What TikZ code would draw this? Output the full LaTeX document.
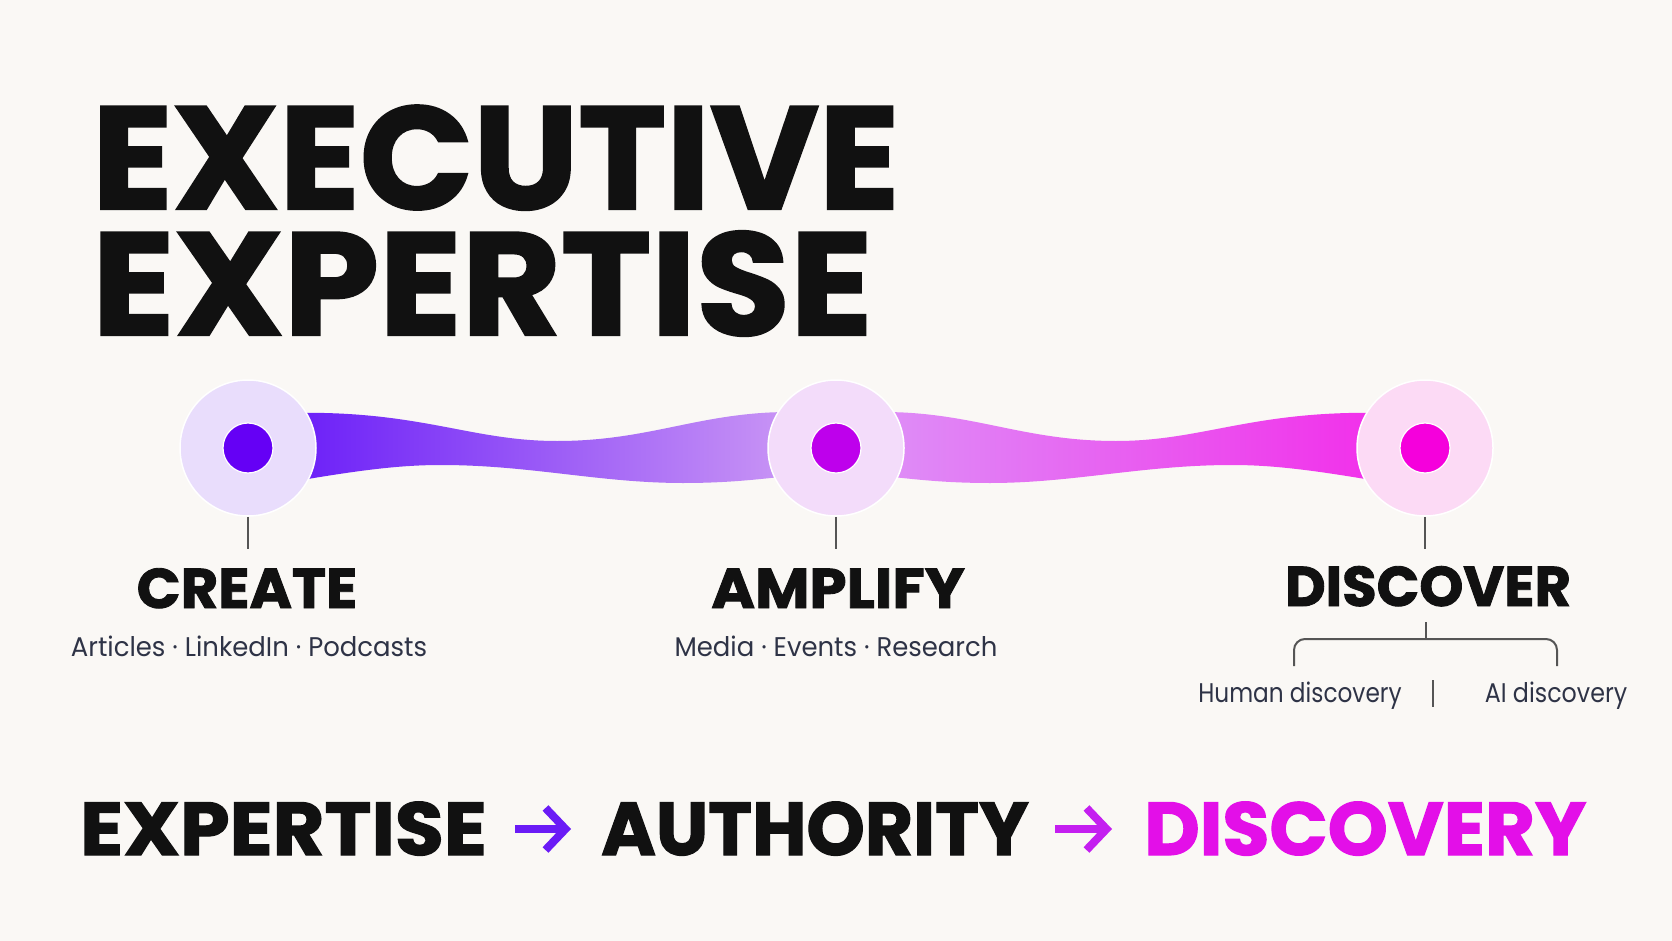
\documentclass[tikz,border=0pt]{standalone}
\usepackage{fontspec}
\setmainfont{Poppins}
\newfontfamily\heavyfont{Poppins}[BoldFeatures={FakeBold=1.6}]
\usetikzlibrary{arrows.meta}
\definecolor{bg}{HTML}{FAF8F5}
\definecolor{ink}{HTML}{111111}
\definecolor{sub}{HTML}{2E3346}
\definecolor{stem}{HTML}{555555}
\definecolor{rOneA}{HTML}{6A1EF8}
\definecolor{rOneB}{HTML}{C995F5}
\definecolor{rTwoA}{HTML}{DE8EF7}
\definecolor{rTwoB}{HTML}{F22EEA}
\definecolor{haloA}{HTML}{E9DDFC}
\definecolor{haloB}{HTML}{F3DCFA}
\definecolor{haloC}{HTML}{FCDAF5}
\definecolor{dotA}{HTML}{6500F5}
\definecolor{dotB}{HTML}{BE00EC}
\definecolor{dotC}{HTML}{F500DC}
\definecolor{arrA}{HTML}{6A1BF6}
\definecolor{arrB}{HTML}{C41FF0}
\definecolor{disc}{HTML}{E30FE8}
\begin{document}
\begin{tikzpicture}[x=1pt,y=-1pt,
  halo/.style={circle,draw=white,line width=1.5pt,minimum size=136pt,inner sep=0},
  dot/.style={circle,draw=white,line width=1.2pt,minimum size=50pt,inner sep=0},
  titletext/.style={inner sep=0,anchor=base west,text=ink,align=left,font=\fontsize{146}{126}\selectfont\heavyfont\bfseries},
  steptext/.style={inner sep=0,anchor=base,text=ink,font=\fontsize{56}{56}\selectfont\heavyfont\bfseries},
  subtext/.style={inner sep=0,anchor=base,text=sub,font=\fontsize{27}{27}\selectfont},
  bottomtext/.style={inner sep=0,anchor=base west,font=\fontsize{75}{75}\selectfont\heavyfont\bfseries},
  stemline/.style={draw=stem,line width=2pt},
  bigarrow/.style={line width=8pt,-{Straight Barb[length=20pt,width=42pt]}}
]
\fill[bg] (0,0) rectangle (1672,941);
\useasboundingbox (0,0) rectangle (1672,941);

% title (two lines in one node; base = last line)
\node[titletext] (title) at (92,335) {\scalebox{1.02}[1]{EXECUTIVE}\\\scalebox{1.045}[1]{EXPERTISE}};

% ribbons
\shade[left color=rOneA,right color=rOneB]
  (290,413) .. controls (420,410) and (470,441) .. (557,441)
  .. controls (650,441) and (700,412) .. (790,412) -- (790,476)
  .. controls (760,479) and (730,483) .. (683,483)
  .. controls (600,483) and (530,465) .. (441,465)
  .. controls (400,465) and (360,470) .. (290,482) -- cycle;
\shade[left color=rTwoA,right color=rTwoB]
  (883,412) .. controls (973,412) and (1023,441) .. (1116,441)
  .. controls (1203,441) and (1253,410) .. (1383,413) -- (1383,482)
  .. controls (1313,470) and (1273,465) .. (1232,465)
  .. controls (1143,465) and (1073,483) .. (990,483)
  .. controls (943,483) and (913,479) .. (883,476) -- cycle;

% circles
\node[halo,fill=haloA] (c1) at (248,448) {};
\node[halo,fill=haloB] (c2) at (836,448) {};
\node[halo,fill=haloC] (c3) at (1425,448) {};
\node[dot,fill=dotA] (d1) at (248,448) {};
\node[dot,fill=dotB] (d2) at (836,448) {};
\node[dot,fill=dotC] (d3) at (1425,448) {};

% stems
\coordinate (s1) at (248,549);
\coordinate (s2) at (836,549);
\coordinate (s3) at (1425,549);
\draw[stemline] (c1.south) -- (s1);
\draw[stemline] (c2.south) -- (s2);
\draw[stemline] (c3.south) -- (s3);

% step labels
\node[steptext] (create) at (247,608) {\scalebox{1.03}[1]{CREATE}};
\node[steptext] (amplify) at (838,608) {\scalebox{1.06}[1]{AMPLIFY}};
\node[steptext] (discover) at (1428,606) {DISCOVER};
\node[subtext] (createsub) at (249,656) {\scalebox{0.96}[1]{Articles · LinkedIn · Podcasts}};
\node[subtext] (amplifysub) at (836,656) {\scalebox{0.96}[1]{Media · Events · Research}};

% bracket
\coordinate (b0) at (1426,622);
\coordinate (bm) at (1426,639);
\coordinate (bl) at (1294,666);
\coordinate (br) at (1557,666);
\draw[stemline] (b0) -- (bm);
\draw[stemline,rounded corners=11pt] (bl) -- (1294,639) -- (1557,639) -- (br);
\node[subtext] (human) at (1300,702) {\scalebox{0.86}[1]{Human discovery}};
\node[subtext] (ai) at (1556,702) {\scalebox{0.88}[1]{AI discovery}};
\coordinate (sepT) at (1433,680);
\coordinate (sepB) at (1433,707);
\draw[stemline] (sepT) -- (sepB);

% bottom line
\node[bottomtext,text=ink] (expertise) at (80,855) {\scalebox{1.06}[1]{EXPERTISE}};
\node[bottomtext,text=ink] (authority) at (601,855) {\scalebox{0.99}[1]{AUTHORITY}};
\node[bottomtext,text=disc] (discovery) at (1144,855) {\scalebox{1.02}[1]{DISCOVERY}};
\draw[bigarrow,draw=arrA] ([xshift=28pt,yshift=26pt]expertise.base east) -- ([xshift=-30pt,yshift=26pt]authority.base west);
\draw[bigarrow,draw=arrB] ([xshift=26pt,yshift=26pt]authority.base east) -- ([xshift=-32pt,yshift=26pt]discovery.base west);
\end{tikzpicture}
\end{document}
